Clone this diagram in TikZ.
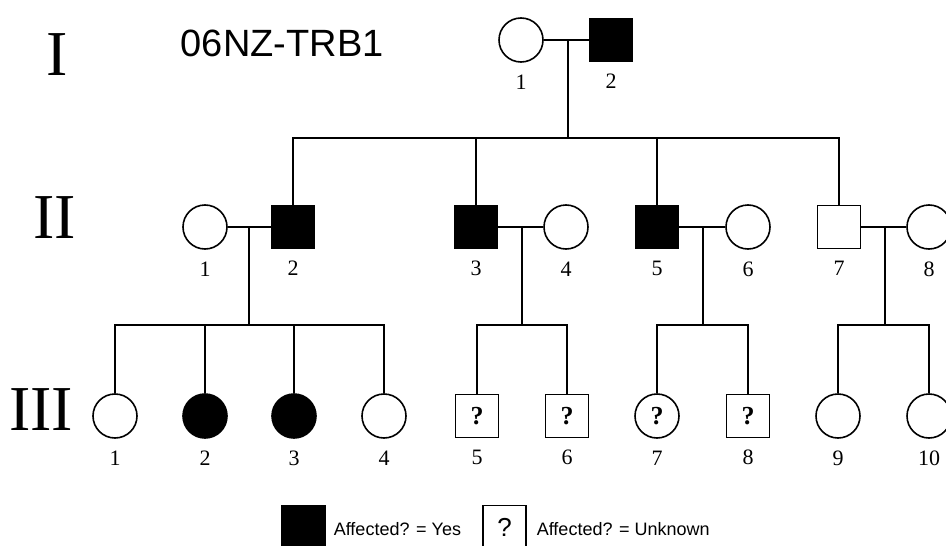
\documentclass[tikz,border=0pt]{standalone}
\usepackage{fontspec}
\setmainfont{Liberation Serif}
\newfontfamily\arialf{Liberation Sans}
\begin{document}
\begin{tikzpicture}[x=1pt,y=-1pt,
  line width=1.6pt,
  fem/.style={circle,draw,minimum size=44pt,inner sep=0pt,fill=white},
  mal/.style={rectangle,draw,minimum size=43pt,inner sep=0pt,fill=white},
  aff/.style={fill=black},
  unk/.style={font=\bfseries\fontsize{26}{28}\selectfont},
  num/.style={inner sep=0pt,font=\fontsize{22}{24}\selectfont},
  lab/.style={label={[num,label distance=11pt]below:#1}},
  gen/.style={inner sep=0pt,font=\fontsize{64}{66}\selectfont},
  leg/.style={inner sep=0pt,anchor=west,font=\arialf\fontsize{18}{20}\selectfont}
]
\useasboundingbox (0,0) rectangle (946,546);
\clip (0,0) rectangle (946,546);
\fill[white] (0,0) rectangle (946,546);

% generation labels
\node[gen] (gI) at (57,55) {I};
\node[gen] (gII) at (55,218) {II};
\node[gen] (gIII) at (41,410) {III};
\node[inner sep=0pt,anchor=west,font=\arialf\fontsize{38}{40}\selectfont] (title) at (180,43) {06NZ-TRB1};

% generation I
\node[fem,lab=1] (I1) at (521,40) {};
\node[mal,aff,lab=2] (I2) at (611,40) {};

% generation II
\node[fem,lab=1] (II1) at (205,227) {};
\node[mal,aff,lab=2] (II2) at (293,227) {};
\node[mal,aff,lab=3] (II3) at (476,227) {};
\node[fem,lab=4] (II4) at (566,227) {};
\node[mal,aff,lab=5] (II5) at (657,227) {};
\node[fem,lab=6] (II6) at (748,227) {};
\node[mal,lab=7] (II7) at (839,227) {};
\node[fem,lab=8] (II8) at (929,227) {};

% generation III
\node[fem,lab=1] (III1) at (115,416) {};
\node[fem,aff,lab=2] (III2) at (205,416) {};
\node[fem,aff,lab=3] (III3) at (294,416) {};
\node[fem,lab=4] (III4) at (384,416) {};
\node[mal,unk,lab=5] (III5) at (477,416) {?};
\node[mal,unk,lab=6] (III6) at (567,416) {?};
\node[fem,unk,lab=7] (III7) at (657,416) {?};
\node[mal,unk,lab=8] (III8) at (748,416) {?};
\node[fem,lab=9] (III9) at (838,416) {};
\node[fem,lab=10] (III10) at (929,416) {};

% couple / sibship coordinates
\coordinate (mI) at (568,40);
\coordinate (sI) at (568,138);
\coordinate (m1) at (249,227);
\coordinate (s1) at (249,325);
\coordinate (m2) at (522,227);
\coordinate (s2) at (522,325);
\coordinate (m3) at (703,227);
\coordinate (s3) at (703,325);
\coordinate (m4) at (885,227);
\coordinate (s4) at (885,325);

% generation I family
\draw (I1) -- (I2);
\draw (mI) -- (sI);
\draw (II2.north) -- (II2.north |- sI) -- (II7.north |- sI) -- (II7.north);
\draw (II3.north) -- (II3.north |- sI);
\draw (II5.north) -- (II5.north |- sI);

% II1 x II2
\draw (II1) -- (II2);
\draw (m1) -- (s1);
\draw (III1.north) -- (III1.north |- s1) -- (III4.north |- s1) -- (III4.north);
\draw (III2.north) -- (III2.north |- s1);
\draw (III3.north) -- (III3.north |- s1);

% II3 x II4
\draw (II3) -- (II4);
\draw (m2) -- (s2);
\draw (III5.north) -- (III5.north |- s2) -- (III6.north |- s2) -- (III6.north);

% II5 x II6
\draw (II5) -- (II6);
\draw (m3) -- (s3);
\draw (III7.north) -- (III7.north |- s3) -- (III8.north |- s3) -- (III8.north);

% II7 x II8
\draw (II7) -- (II8);
\draw (m4) -- (s4);
\draw (III9.north) -- (III9.north |- s4) -- (III10.north |- s4) -- (III10.north);

% legend
\node[mal,aff] (legA) at (303.5,527) {};
\node[leg] (legAt) at (333,529) {Affected? = Yes};
\node[mal,font=\arialf\fontsize{26}{28}\selectfont] (legU) at (504.5,527) {?};
\node[leg] (legUt) at (536,529) {Affected? = Unknown};
\end{tikzpicture}
\end{document}
